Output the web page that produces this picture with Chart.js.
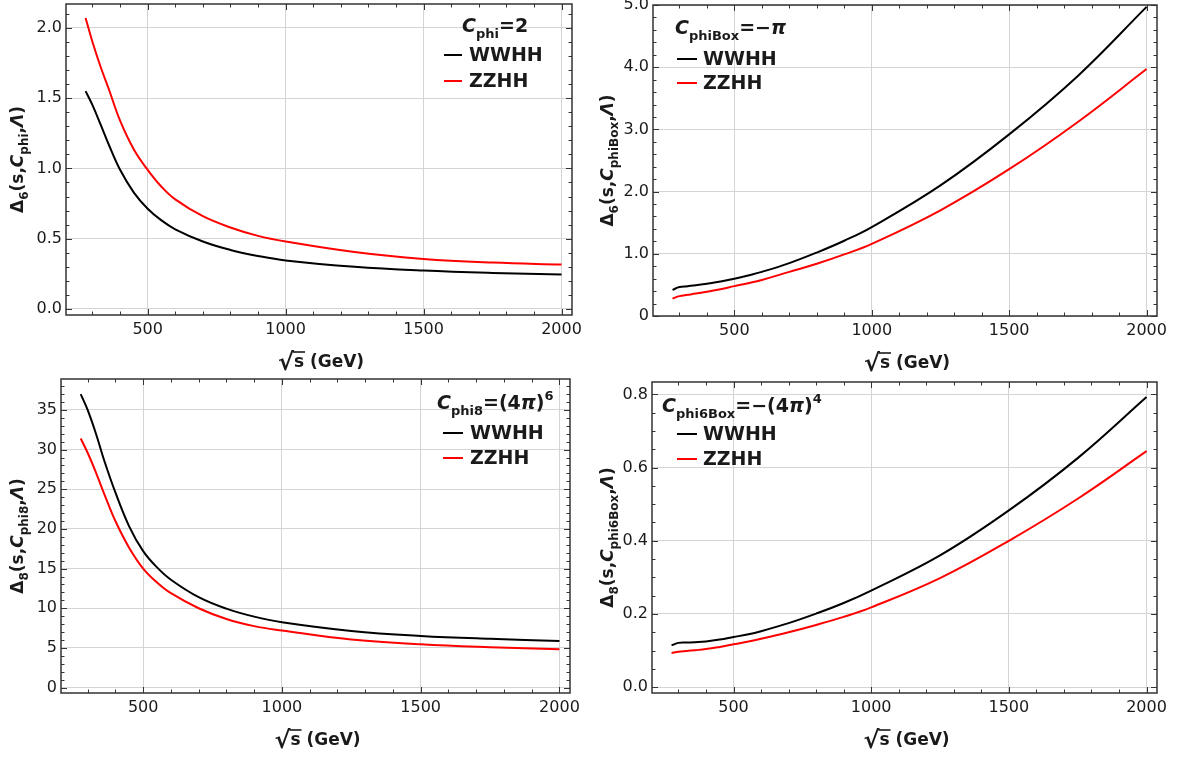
<!DOCTYPE html>
<html>
<head>
<meta charset="utf-8">
<script src="https://cdn.jsdelivr.net/npm/chart.js@4.4.1/dist/chart.umd.min.js"></script>
<style>
  html, body { margin: 0; padding: 0; background: #fff; overflow: hidden; }
  body { width: 1183px; height: 758px; position: relative; }
  .panel { position: absolute; }
</style>
</head>
<body>
<div class="panel" style="left:0;top:-12px;width:590px;height:387px"><canvas id="c1"></canvas></div>
<div class="panel" style="left:590px;top:-12px;width:593px;height:387px"><canvas id="c2"></canvas></div>
<div class="panel" style="left:0;top:363px;width:590px;height:395px"><canvas id="c3"></canvas></div>
<div class="panel" style="left:590px;top:363px;width:593px;height:395px"><canvas id="c4"></canvas></div>
<script>
// sqrt(s) in GeV
const sqrtS = [275, 300, 330, 360, 400, 450, 500, 550, 600, 700, 800, 900, 1000, 1250, 1500, 1750, 2000];

// Delta_6 with C_phi = 2
const d6PhiWWHH = [1.55, 1.45, 1.31, 1.165, 0.99, 0.828, 0.713, 0.63, 0.567, 0.48, 0.42, 0.377, 0.345, 0.30, 0.273, 0.256, 0.245];
const d6PhiZZHH = [2.07, 1.90, 1.72, 1.56, 1.34, 1.135, 0.99, 0.87, 0.78, 0.66, 0.58, 0.52, 0.48, 0.405, 0.356, 0.33, 0.316];
// Delta_6 with C_phiBox = -pi
const d6BoxWWHH = [0.42, 0.465, 0.48, 0.495, 0.52, 0.555, 0.60, 0.652, 0.71, 0.85, 1.02, 1.21, 1.43, 2.10, 2.92, 3.86, 4.97];
const d6BoxZZHH = [0.28, 0.32, 0.34, 0.36, 0.39, 0.43, 0.48, 0.527, 0.58, 0.71, 0.84, 0.99, 1.16, 1.70, 2.36, 3.12, 3.97];
// Delta_8 with C_phi8 = (4pi)^6
const d8PhiWWHH = [37.0, 35.0, 32.0, 28.6, 24.6, 20.3, 17.2, 15.15, 13.6, 11.4, 9.95, 8.95, 8.25, 7.15, 6.52, 6.15, 5.89];
const d8PhiZZHH = [31.4, 29.6, 27.1, 24.4, 21.0, 17.6, 15.0, 13.25, 11.9, 10.0, 8.65, 7.75, 7.2, 6.06, 5.47, 5.1, 4.83];
// Delta_8 with C_phi6Box = -(4pi)^4
const d8BoxWWHH = [0.114, 0.121, 0.122, 0.123, 0.125, 0.13, 0.137, 0.144, 0.153, 0.175, 0.201, 0.23, 0.264, 0.36, 0.483, 0.626, 0.793];
const d8BoxZZHH = [0.093, 0.097, 0.099, 0.101, 0.104, 0.11, 0.117, 0.124, 0.132, 0.150, 0.170, 0.192, 0.218, 0.298, 0.40, 0.515, 0.645];

const processes = ['WWHH', 'ZZHH'];
const xTicks = [500, 1000, 1500, 2000];
const yTicksPhi6 = [0, 0.5, 1.0, 1.5, 2.0];
const yTicksBox6 = [0, 1, 2, 3, 4, 5];
const yTicksPhi8 = [0, 5, 10, 15, 20, 25, 30, 35];
const yTicksBox8 = [0, 0.2, 0.4, 0.6, 0.8];

const FONT = '"DejaVu Sans", "Liberation Sans", sans-serif';
const INK = '#1a1a1a';

// draws a run of bold text pieces with sub/superscripts; returns width
function richText(ctx, segs, x, y, size, align) {
  const subSize = Math.round(size * 0.68);
  const parts = segs.map(s => {
    const sz = (s.sub || s.sup) ? subSize : size;
    const font = (s.it ? 'italic ' : '') + 'bold ' + sz + 'px ' + FONT;
    ctx.font = font;
    return { s, font, w: ctx.measureText(s.t).width, dy: s.sub ? size * 0.3 : s.sup ? -size * 0.45 : 0 };
  });
  const total = parts.reduce((a, p) => a + p.w, 0);
  let cx = align === 'center' ? x - total / 2 : x;
  ctx.textBaseline = 'alphabetic';
  ctx.textAlign = 'left';
  for (const p of parts) {
    ctx.font = p.font;
    ctx.fillText(p.s.t, cx, y + p.dy);
    cx += p.w;
  }
  return total;
}

const decor = {
  id: 'decor',
  afterDraw(chart, args, o) {
    const ctx = chart.ctx, a = chart.chartArea;
    const xs = chart.scales.x, ys = chart.scales.y;
    ctx.save();
    ctx.strokeStyle = '#333';
    ctx.lineWidth = 1;
    const seg = (x0, y0, x1, y1) => { ctx.beginPath(); ctx.moveTo(x0, y0); ctx.lineTo(x1, y1); ctx.stroke(); };
    // inward ticks on all four sides
    for (let k = Math.ceil(xs.min / 100); k <= Math.floor(xs.max / 100); k++) {
      const px = Math.round(xs.getPixelForValue(k * 100)) + 0.5;
      const len = k % 5 === 0 ? 6 : 3.5;
      seg(px, a.bottom, px, a.bottom - len);
      seg(px, a.top, px, a.top + len);
    }
    const ratio = Math.round(o.yMajor / o.yMinor);
    for (let k = Math.ceil(ys.min / o.yMinor - 1e-9); k <= Math.floor(ys.max / o.yMinor + 1e-9); k++) {
      const py = Math.round(ys.getPixelForValue(k * o.yMinor)) + 0.5;
      const len = k % ratio === 0 ? 6 : 3.5;
      seg(a.left, py, a.left + len, py);
      seg(a.right, py, a.right - len, py);
    }
    // frame
    ctx.lineWidth = 1.5;
    ctx.strokeRect(a.left, a.top, a.right - a.left, a.bottom - a.top);

    ctx.fillStyle = INK;
    // y title, rotated
    ctx.save();
    ctx.translate(23, (a.top + a.bottom) / 2);
    ctx.rotate(-Math.PI / 2);
    richText(ctx, o.yTitle, 0, 0, 17, 'center');
    ctx.restore();

    // x title: sqrt(s) (GeV)
    const cx = (a.left + a.right) / 2, by = a.bottom + 52;
    ctx.font = 'bold 17px ' + FONT;
    const wS = ctx.measureText('s').width, wRest = ctx.measureText(' (GeV)').width;
    ctx.font = 'bold 24px ' + FONT;
    const wRad = ctx.measureText('\u221A').width;
    const x0 = cx - (wRad + wS + wRest) / 2 + 2;
    ctx.textBaseline = 'alphabetic';
    ctx.fillText('\u221A', x0, by + 3);
    ctx.font = 'bold 17px ' + FONT;
    ctx.fillText('s', x0 + wRad, by);
    ctx.fillText(' (GeV)', x0 + wRad + wS, by);
    ctx.lineWidth = 1.6;
    ctx.strokeStyle = INK;
    seg(x0 + wRad - 1, by - 15, x0 + wRad + wS + 1, by - 15);

    // legend box
    const L = o.legend;
    richText(ctx, L.title, a.left + L.dx, a.top + L.dy + 7, 19, 'left');
    const colors = ['#000000', '#ff0000'];
    processes.forEach((name, i) => {
      const ly = a.top + L.rows[i];
      ctx.strokeStyle = colors[i];
      ctx.lineWidth = 2;
      seg(a.left + L.line[0], ly + 1, a.left + L.line[1], ly + 1);
      ctx.fillStyle = INK;
      ctx.font = 'bold 19px ' + FONT;
      ctx.fillText(name, a.left + L.text, ly + 7);
    });
    ctx.restore();
  }
};

function makePanel(id, p) {
  const toPts = arr => sqrtS.map((x, i) => ({ x, y: arr[i] }));
  return new Chart(document.getElementById(id), {
    type: 'line',
    data: {
      datasets: [
        { label: processes[0], data: toPts(p.ww), borderColor: '#000000' },
        { label: processes[1], data: toPts(p.zz), borderColor: '#ff0000' }
      ]
    },
    options: {
      responsive: true,
      maintainAspectRatio: false,
      animation: false,
      elements: {
        point: { radius: 0 },
        line: { borderWidth: 2, tension: 0.4, fill: false }
      },
      layout: { padding: { left: 0, top: p.padTop, right: p.padRight, bottom: 0 } },
      scales: {
        x: {
          type: 'linear', min: 204, max: 2038,
          afterBuildTicks: s => { s.ticks = xTicks.map(v => ({ value: v })); },
          afterFit: s => { s.height = p.xHeight; },
          grid: { color: '#d4d4d4', lineWidth: 1, drawTicks: false },
          border: { display: false },
          ticks: { autoSkip: false, maxRotation: 0, padding: 5, color: INK, font: { family: FONT, size: 16 }, callback: v => String(v) }
        },
        y: {
          type: 'linear', min: p.yMin, max: p.yMax,
          afterBuildTicks: s => { s.ticks = p.yTicks.map(v => ({ value: v })); },
          afterFit: s => { s.width = p.yWidth; },
          grid: { color: '#d4d4d4', lineWidth: 1, drawTicks: false },
          border: { display: false },
          ticks: { autoSkip: false, padding: 4, color: INK, font: { family: FONT, size: 16 }, callback: p.fmt }
        }
      },
      plugins: {
        legend: { display: false },
        tooltip: { enabled: false },
        decor: { yMajor: p.yMajor, yMinor: p.yMinor, yTitle: p.yTitle, legend: p.legend }
      }
    },
    plugins: [decor]
  });
}

const fmt1 = v => v.toFixed(1);

makePanel('c1', {
  ww: d6PhiWWHH, zz: d6PhiZZHH,
  yMin: -0.043, yMax: 2.17, yTicks: yTicksPhi6, yMajor: 0.5, yMinor: 0.1, fmt: fmt1,
  padTop: 16, padRight: 18, xHeight: 60, yWidth: 66,
  yTitle: [{ t: '\u0394' }, { t: '6', sub: true }, { t: '(s,' }, { t: 'C', it: true }, { t: 'phi', sub: true }, { t: ',' }, { t: '\u039B', it: true }, { t: ')' }],
  legend: { title: [{ t: 'C', it: true }, { t: 'phi', sub: true }, { t: '=2' }], dx: 396, dy: 21, line: [378, 396], text: 403, rows: [50, 76] }
});

makePanel('c2', {
  ww: d6BoxWWHH, zz: d6BoxZZHH,
  yMin: 0, yMax: 5.0, yTicks: yTicksBox6, yMajor: 1, yMinor: 0.2, fmt: v => v === 0 ? '0' : v.toFixed(1),
  padTop: 17, padRight: 26, xHeight: 59, yWidth: 63,
  yTitle: [{ t: '\u0394' }, { t: '6', sub: true }, { t: '(s,' }, { t: 'C', it: true }, { t: 'phiBox', sub: true }, { t: ',' }, { t: '\u039B', it: true }, { t: ')' }],
  legend: { title: [{ t: 'C', it: true }, { t: 'phiBox', sub: true }, { t: '=\u2212' }, { t: '\u03C0', it: true }], dx: 22, dy: 22, line: [24, 44], text: 50, rows: [53, 77] }
});

makePanel('c3', {
  ww: d8PhiWWHH, zz: d8PhiZZHH,
  yMin: -0.68, yMax: 38.9, yTicks: yTicksPhi8, yMajor: 5, yMinor: 1, fmt: v => String(v),
  padTop: 16, padRight: 20, xHeight: 65, yWidth: 61,
  yTitle: [{ t: '\u0394' }, { t: '8', sub: true }, { t: '(s,' }, { t: 'C', it: true }, { t: 'phi8', sub: true }, { t: ',' }, { t: '\u039B', it: true }, { t: ')' }],
  legend: { title: [{ t: 'C', it: true }, { t: 'phi8', sub: true }, { t: '=(4' }, { t: '\u03C0', it: true }, { t: ')' }, { t: '6', sup: true }], dx: 376, dy: 23, line: [382, 402], text: 409, rows: [53, 78] }
});

makePanel('c4', {
  ww: d8BoxWWHH, zz: d8BoxZZHH,
  yMin: -0.016, yMax: 0.834, yTicks: yTicksBox8, yMajor: 0.2, yMinor: 0.05, fmt: fmt1,
  padTop: 19, padRight: 26, xHeight: 65, yWidth: 62,
  yTitle: [{ t: '\u0394' }, { t: '8', sub: true }, { t: '(s,' }, { t: 'C', it: true }, { t: 'phi6Box', sub: true }, { t: ',' }, { t: '\u039B', it: true }, { t: ')' }],
  legend: { title: [{ t: 'C', it: true }, { t: 'phi6Box', sub: true }, { t: '=\u2212(4' }, { t: '\u03C0', it: true }, { t: ')' }, { t: '4', sup: true }], dx: 10, dy: 23, line: [25, 45], text: 51, rows: [51, 76] }
});
</script>
</body>
</html>
